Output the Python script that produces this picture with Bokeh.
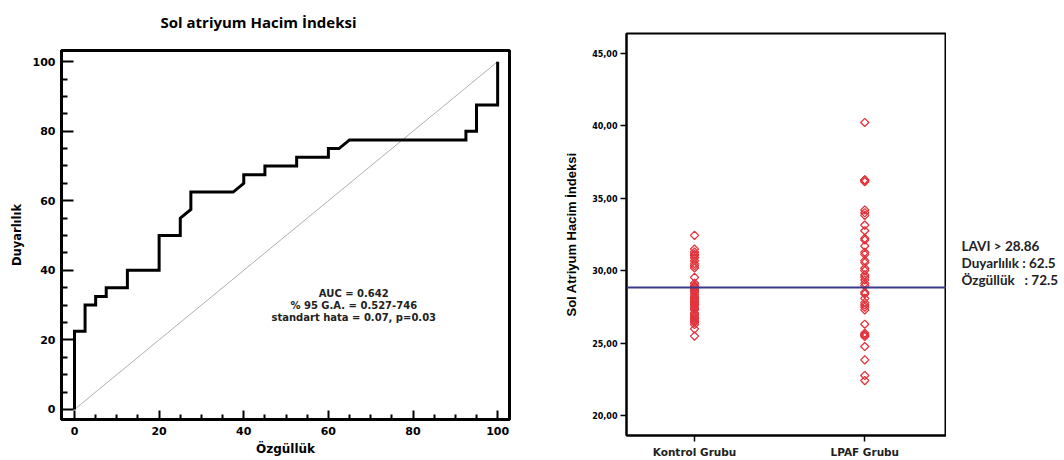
from bokeh.plotting import figure
from bokeh.layouts import row, column
from bokeh.models import FixedTicker, Span, Label
from bokeh.core.properties import value
from bokeh.embed import file_html
from bokeh.resources import INLINE

# ROC curve (specificity on x, sensitivity on y, both in %)
roc_spec = [0, 0, 2.5, 2.5, 5, 5, 7.5, 7.5, 12.5, 12.5, 20, 20, 25, 25, 27.5, 27.5,
            37.5, 40, 40, 45, 45, 52.5, 52.5, 60, 60, 62.5, 65, 92.5, 92.5, 95, 95, 100, 100]
roc_sens = [0, 22.5, 22.5, 30, 30, 32.5, 32.5, 35, 35, 40, 40, 50, 50, 55, 57.5, 62.5,
            62.5, 65, 67.5, 67.5, 70, 70, 72.5, 72.5, 75, 75, 77.5, 77.5, 80, 80, 87.5, 87.5, 100]
roc_ticks = [0, 20, 40, 60, 80, 100]
roc_minor = [5, 10, 15, 25, 30, 35, 45, 50, 55, 65, 70, 75, 85, 90, 95]
roc_title = "Sol atriyum Hacim İndeksi"
roc_stats = ["AUC = 0.642", "% 95 G.A. = 0.527-746", "standart hata = 0.07, p=0.03"]

# Left atrial volume index per group
groups = ["Kontrol Grubu", "LPAF Grubu"]
kontrol = [32.45, 31.5, 31.3, 31.15, 31.05, 30.9, 30.7, 30.5, 30.35, 30.2, 29.55, 29.15,
           29.0, 28.9, 28.8, 28.7, 28.6, 28.5, 28.35, 28.2, 28.1, 28.0, 27.9, 27.8, 27.7,
           27.65, 27.5, 27.4, 27.3, 27.1, 27.0, 26.95, 26.8, 26.7, 26.6, 26.5, 26.45, 26.3,
           26.0, 25.5]
lpaf = [40.24, 36.26, 36.26, 36.26, 36.15, 34.2, 34.01, 33.83, 33.16, 32.77, 32.24, 32.13,
        31.72, 31.28, 31.14, 30.71, 30.57, 30.18, 30.02, 29.72, 29.56, 29.37, 29.14, 28.98,
        28.52, 28.41, 28.1, 27.81, 27.65, 27.49, 27.31, 26.32, 25.7, 25.58, 25.58, 25.47,
        24.78, 23.86, 22.78, 22.43]
lavi_ticks = [20, 25, 30, 35, 40, 45]
cutoff = 28.86
NB = "\u00a0"
cutoff_text = ["LAVI > 28.86", "Duyarlılık : 62.5", f"Özgüllük{NB}{NB}{NB}: 72.5"]

BOLD_WIDE = "DejaVu Sans"


def blank(fig):
    fig.axis.visible = False
    fig.grid.visible = False
    fig.outline_line_color = None
    fig.background_fill_color = "white"
    fig.border_fill_color = "white"


# ---------------- ROC title strip (pixel coordinates) ----------------
pt = figure(width=530, height=40, x_range=(61, 509), y_range=(40, 0),
            min_border_left=61, min_border_right=21, min_border_top=0, min_border_bottom=0,
            output_backend="svg", toolbar_location=None)
blank(pt)
pt.text(x=[160], y=[21], text=[roc_title], text_align="left", text_baseline="middle",
        text_font=value("Open Sans"), text_font_style="bold", text_font_size="15px",
        text_color="black")

# ---------------- ROC panel ----------------
p1 = figure(width=530, height=420, x_range=(-3.07, 102.8), y_range=(-2.9, 103.2),
            min_border_left=61, min_border_right=21, min_border_top=10, min_border_bottom=41,
            output_backend="svg", toolbar_location=None)
p1.grid.visible = False
p1.outline_line_color = "black"
p1.outline_line_width = 3
p1.background_fill_color = "white"
p1.border_fill_color = "white"

for ax in (p1.xaxis[0], p1.yaxis[0]):
    ax.ticker = FixedTicker(ticks=roc_ticks, minor_ticks=roc_minor)
    ax.axis_line_width = 3
    ax.axis_line_color = "black"
    ax.major_tick_out = 0
    ax.minor_tick_out = 0
    ax.major_tick_line_width = 2
    ax.minor_tick_line_width = 2
    ax.major_label_text_font = BOLD_WIDE
    ax.major_label_text_font_style = "bold"
    ax.major_label_text_font_size = "11px"
    ax.major_label_text_color = "black"
    ax.axis_label_text_font = BOLD_WIDE
    ax.axis_label_text_font_style = "bold"
    ax.axis_label_text_color = "black"

p1.yaxis[0].major_tick_in = 12
p1.yaxis[0].minor_tick_in = 6
p1.yaxis[0].major_label_standoff = 6
p1.yaxis[0].axis_label = "Duyarlılık"
p1.yaxis[0].axis_label_text_font_size = "11.5px"
p1.yaxis[0].axis_label_standoff = 6

p1.xaxis[0].major_tick_in = 9
p1.xaxis[0].minor_tick_in = 5
p1.xaxis[0].major_label_standoff = 7
p1.xaxis[0].axis_label = "Özgüllük"
p1.xaxis[0].axis_label_text_font_size = "12px"
p1.xaxis[0].axis_label_standoff = 4

# chance line
p1.line([0, 100], [0, 100], line_color="#b0b0b0", line_width=1)
# ROC curve
p1.line(roc_spec, roc_sens, line_color="black", line_width=3, line_join="miter")

stat_y = [33.33, 29.89, 26.44]
for txt, yy in zip(roc_stats, stat_y):
    p1.add_layout(Label(x=66, y=yy, text=txt, text_align="center", text_baseline="middle",
                        text_font=BOLD_WIDE, text_font_style="bold", text_font_size="10px",
                        text_color="#222222"))

# ---------------- scatter panel ----------------
group_pos = {groups[0]: 1, groups[1]: 2}
p2 = figure(width=416, height=460, x_range=(0.6005, 2.48), y_range=(18.64, 46.38),
            min_border_left=96, min_border_right=0, min_border_top=33, min_border_bottom=24,
            output_backend="svg", toolbar_location=None)
p2.grid.visible = False
p2.outline_line_color = "black"
p2.outline_line_width = 2
p2.background_fill_color = "white"
p2.border_fill_color = "white"

ya = p2.yaxis[0]
ya.ticker = FixedTicker(ticks=lavi_ticks)
ya.major_label_overrides = {t: f"{t},00" for t in lavi_ticks}
ya.minor_tick_line_color = None
ya.major_tick_in = 0
ya.major_tick_out = 6
ya.major_tick_line_width = 1.5
ya.axis_line_width = 2
ya.major_label_standoff = 3
ya.major_label_text_font = BOLD_WIDE
ya.major_label_text_font_style = "bold"
ya.major_label_text_font_size = "8px"
ya.major_label_text_color = "black"
ya.axis_label = "Sol Atriyum Hacim İndeksi"
ya.axis_label_text_font = "Liberation Sans"
ya.axis_label_text_font_style = "bold"
ya.axis_label_text_font_size = "13px"
ya.axis_label_text_color = "black"
ya.axis_label_standoff = 10

xa = p2.xaxis[0]
xa.ticker = FixedTicker(ticks=[1, 2])
xa.major_label_overrides = {group_pos[g]: g for g in groups}
xa.minor_tick_line_color = None
xa.major_tick_in = 0
xa.major_tick_out = 6
xa.major_tick_line_width = 1.5
xa.axis_line_width = 2
xa.major_label_standoff = 4
xa.major_label_text_font = BOLD_WIDE
xa.major_label_text_font_style = "bold"
xa.major_label_text_font_size = "10.5px"
xa.major_label_text_color = "#222222"

p2.add_layout(Span(location=cutoff, dimension="width", line_color="#3a3a8a", line_width=2))

red = "#e2343c"
for g, vals in ((groups[0], kontrol), (groups[1], lpaf)):
    p2.scatter([group_pos[g]] * len(vals), vals, marker="square", angle=0.7854, size=5.8,
               fill_color=None, line_color=red, line_width=1.3)

# ---------------- cut-off note beside the scatter (pixel coordinates) ----------------
p3 = figure(width=118, height=460, x_range=(0, 118), y_range=(460, 0),
            min_border_left=0, min_border_right=0, min_border_top=0, min_border_bottom=0,
            output_backend="svg", toolbar_location=None)
blank(p3)
p3.text(x=[15] * len(cutoff_text), y=[245, 262.5, 279.5], text=cutoff_text,
        text_align="left", text_baseline="middle", text_font=value("Lato"),
        text_font_style="bold", text_font_size="13.5px", text_color="#222222")

layout = row(column(pt, p1), column(p2), column(p3))
open("out.html", "w").write(file_html(layout, INLINE))
